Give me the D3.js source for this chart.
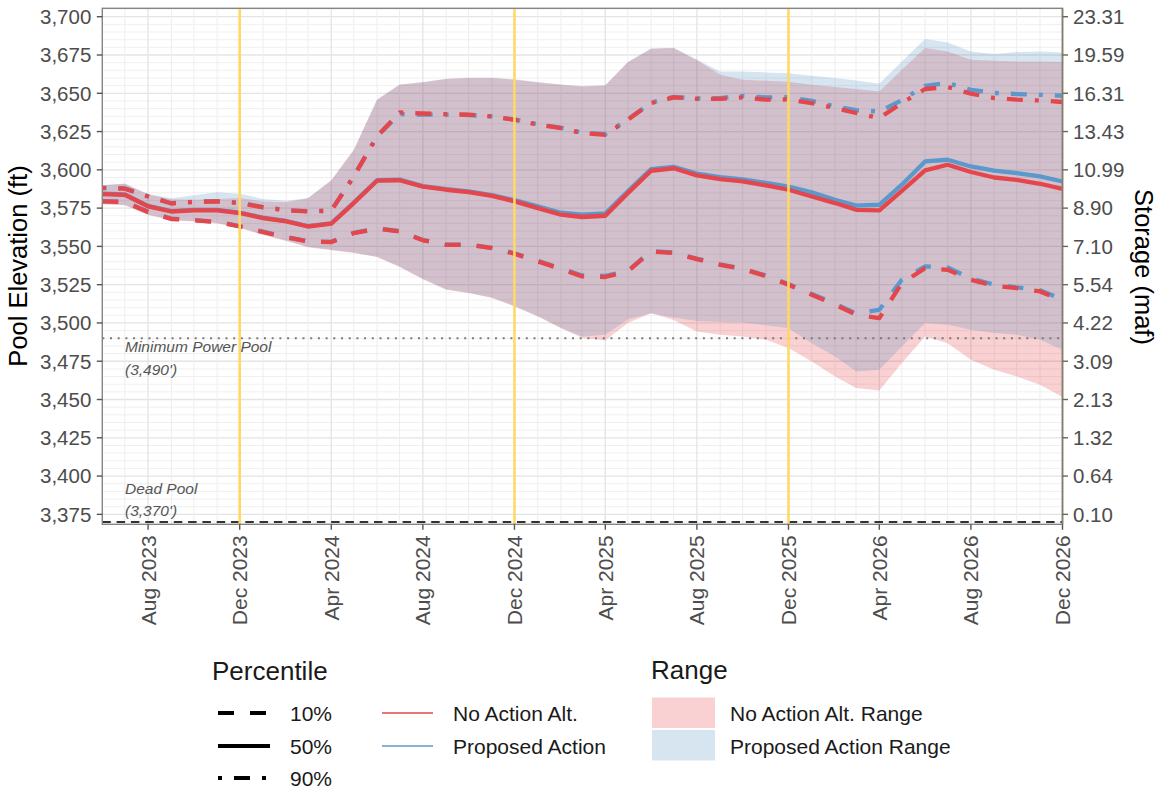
<!DOCTYPE html>
<html><head><meta charset="utf-8">
<script src="https://cdn.jsdelivr.net/npm/d3@7"></script>
<style>
html,body{margin:0;padding:0;background:#fff;}
svg{display:block;font-family:"Liberation Sans",Arial,sans-serif;}
</style></head>
<body><svg id="c" width="1159" height="790"></svg>
<script>
const months = ["2023-06","2023-07","2023-08","2023-09","2023-10","2023-11","2023-12",
"2024-01","2024-02","2024-03","2024-04","2024-05","2024-06","2024-07","2024-08","2024-09","2024-10","2024-11","2024-12",
"2025-01","2025-02","2025-03","2025-04","2025-05","2025-06","2025-07","2025-08","2025-09","2025-10","2025-11","2025-12",
"2026-01","2026-02","2026-03","2026-04","2026-05","2026-06","2026-07","2026-08","2026-09","2026-10","2026-11","2026-12"];

const na10 = [3579.4,3579.0,3572.4,3567.9,3567.0,3565.9,3563.0,3559.4,3555.9,3553.2,3552.8,3558.7,3561.5,3559.8,3554.0,3551.0,3551.0,3548.9,3545.2,3540.2,3535.2,3530.4,3530.0,3533.7,3546.7,3545.7,3541.7,3538.0,3535.2,3530.6,3525.0,3518.4,3511.9,3505.4,3503.2,3526.0,3535.8,3534.7,3528.2,3524.3,3522.8,3520.6,3514.7];
const pa10 = [3579.6,3579.2,3572.6,3568.1,3567.2,3566.1,3563.2,3559.6,3556.1,3553.4,3553.0,3558.9,3561.7,3560.0,3554.2,3551.2,3551.2,3549.1,3545.5,3540.6,3535.6,3531.0,3530.8,3534.0,3547.0,3546.0,3542.0,3538.3,3535.5,3531.0,3525.4,3519.0,3512.6,3506.2,3508.6,3528.2,3536.9,3536.2,3529.0,3525.0,3523.3,3521.3,3515.3];
const na50 = [3584.2,3583.7,3576.1,3572.8,3573.5,3573.5,3571.8,3568.5,3566.3,3563.0,3564.8,3578.3,3592.9,3593.2,3589.0,3587.0,3585.5,3583.0,3579.4,3575.0,3570.7,3569.2,3570.0,3584.8,3599.4,3601.0,3596.4,3594.0,3592.4,3589.8,3587.0,3582.6,3578.3,3573.9,3573.5,3586.3,3599.6,3603.3,3598.6,3595.0,3593.5,3590.9,3587.6];
const pa50 = [3584.5,3584.0,3576.4,3573.1,3573.8,3573.8,3572.1,3568.8,3566.6,3563.3,3565.1,3578.6,3593.2,3593.6,3589.4,3587.4,3585.9,3583.5,3580.2,3576.2,3572.0,3570.8,3571.5,3586.0,3600.5,3602.0,3597.5,3595.2,3593.8,3591.5,3589.0,3585.3,3580.5,3576.6,3577.2,3590.3,3605.5,3606.6,3602.2,3599.5,3597.8,3595.7,3592.4];
const na90 = [3588.1,3587.7,3582.6,3578.0,3579.0,3579.4,3578.3,3575.5,3573.5,3572.8,3573.3,3595.7,3621.8,3637.5,3636.8,3636.3,3636.0,3634.9,3632.7,3629.5,3627.3,3624.0,3622.9,3632.7,3643.6,3647.3,3646.4,3646.4,3647.3,3645.8,3646.0,3643.6,3640.3,3637.1,3633.8,3643.6,3652.8,3654.1,3649.7,3646.9,3645.8,3645.3,3644.3];
const pa90 = [3588.3,3587.9,3582.8,3578.2,3579.2,3579.6,3578.5,3575.7,3573.7,3573.0,3573.5,3595.9,3622.0,3636.5,3636.0,3636.0,3635.8,3634.9,3632.9,3629.7,3627.5,3624.3,3623.3,3633.0,3643.9,3647.6,3646.7,3646.9,3648.3,3647.3,3647.5,3645.0,3641.5,3639.0,3638.1,3645.5,3654.9,3656.7,3652.3,3650.2,3649.5,3649.0,3648.4];
const naMin = [3577.5,3576.8,3570.5,3567.0,3566.3,3565.0,3562.0,3557.5,3553.5,3549.5,3547.5,3545.7,3543.0,3536.5,3528.5,3521.7,3519.5,3516.3,3510.8,3504.2,3496.5,3490.3,3488.6,3499.9,3506.4,3502.0,3494.4,3492.3,3491.2,3489.0,3483.6,3474.9,3465.1,3457.5,3455.9,3473.8,3491.2,3486.8,3476.0,3469.4,3465.1,3459.6,3451.6];
const naMax = [3589.8,3590.9,3583.9,3580.8,3580.5,3581.0,3581.6,3579.4,3578.9,3581.4,3593.0,3613.0,3645.8,3655.6,3657.1,3659.3,3660.0,3660.0,3658.9,3657.1,3655.6,3654.5,3655.1,3670.2,3679.1,3679.6,3671.5,3662.1,3658.9,3658.2,3657.5,3655.6,3654.1,3652.8,3651.2,3665.4,3679.6,3677.3,3671.9,3671.3,3670.8,3670.8,3670.4];
const paMin = [3577.8,3577.1,3570.8,3567.3,3566.6,3565.3,3562.3,3557.8,3553.8,3549.8,3547.8,3546.0,3543.3,3536.8,3528.8,3522.0,3519.8,3516.6,3511.1,3504.5,3496.8,3491.2,3492.3,3502.5,3506.4,3503.5,3501.3,3500.7,3500.3,3498.5,3496.6,3486.8,3478.1,3468.3,3469.4,3484.6,3499.9,3498.8,3495.6,3493.4,3492.3,3489.0,3482.5];
const paMax = [3590.0,3591.0,3584.2,3581.5,3583.4,3585.3,3584.4,3581.0,3579.8,3581.6,3593.2,3613.2,3646.0,3655.8,3657.3,3659.5,3660.2,3660.2,3659.1,3657.3,3655.8,3654.7,3655.3,3670.4,3679.3,3679.8,3672.0,3664.3,3664.3,3663.6,3663.0,3661.5,3660.0,3658.4,3656.2,3670.8,3685.4,3683.2,3677.3,3675.6,3676.9,3677.3,3676.7];

const elevTicks = [3375,3400,3425,3450,3475,3500,3525,3550,3575,3600,3625,3650,3675,3700];
const storageLabels = ["0.10","0.64","1.32","2.13","3.09","4.22","5.54","7.10","8.90","10.99","13.43","16.31","19.59","23.31"];
const xTickMonths = ["2023-08","2023-12","2024-04","2024-08","2024-12","2025-04","2025-08","2025-12","2026-04","2026-08","2026-12"];
const xTickLabels = ["Aug 2023","Dec 2023","Apr 2024","Aug 2024","Dec 2024","Apr 2025","Aug 2025","Dec 2025","Apr 2026","Aug 2026","Dec 2026"];
const yellowMonths = ["2023-12","2024-12","2025-12"];
const minPowerPool = 3490, deadPool = 3370;
const percentiles = ["10%","50%","90%"];
const alternatives = ["No Action Alt.","Proposed Action"];
const rangeLabels = ["No Action Alt. Range","Proposed Action Range"];

const parse = d3.utcParse("%Y-%m");
const dates = months.map(parse);
const L = 102.3, R = 1062.5, T = 8.3, B = 524.3;
const x = d3.scaleUtc().domain([dates[0], dates[dates.length-1]]).range([L, R]);
const y = d3.scaleLinear().domain([3368.5, 3705.5]).range([B, T]);

const RED = "#e5464b", BLUE = "#5b98cc";
const FILL_RED = "#E41A1C", FILL_BLUE = "#377EB8";
const dashStyle = {"10%":"16,16","50%":null,"90%":"4,12,16,12"};

const svg = d3.select("#c");
svg.append("defs").append("clipPath").attr("id","clip")
  .append("rect").attr("x",L).attr("y",T).attr("width",R-L).attr("height",B-T);

const g = svg.append("g");
// grid
const minorY = d3.range(3370, 3706, 5);
g.selectAll(".hgm").data(minorY.filter(v => v % 25 !== 0)).join("line")
  .attr("x1",L).attr("x2",R).attr("y1",d=>y(d)).attr("y2",d=>y(d))
  .attr("stroke","#f0f0f0").attr("stroke-width",1);
g.selectAll(".hg").data(elevTicks).join("line")
  .attr("x1",L).attr("x2",R).attr("y1",d=>y(d)).attr("y2",d=>y(d))
  .attr("stroke","#e4e4e4").attr("stroke-width",1.3);
const tickSet = new Set(xTickMonths);
g.selectAll(".vg").data(months).join("line")
  .attr("x1",d=>x(parse(d))).attr("x2",d=>x(parse(d))).attr("y1",T).attr("y2",B)
  .attr("stroke",d=>tickSet.has(d)?"#e4e4e4":"#eeeeee").attr("stroke-width",d=>tickSet.has(d)?1.3:1);

const plot = svg.append("g").attr("clip-path","url(#clip)");
const area = (lo,hi) => d3.area().x((d,i)=>x(dates[i])).y0((d,i)=>y(lo[i])).y1((d,i)=>y(hi[i]));
plot.append("path").datum(months).attr("d",area(naMin,naMax)).attr("fill",FILL_RED).attr("fill-opacity",0.2);
plot.append("path").datum(months).attr("d",area(paMin,paMax)).attr("fill",FILL_BLUE).attr("fill-opacity",0.2);

// reference lines
plot.append("line").attr("x1",L).attr("x2",R).attr("y1",y(minPowerPool)).attr("y2",y(minPowerPool))
  .attr("stroke","#7a7a7a").attr("stroke-width",2).attr("stroke-dasharray","2,5.7");
plot.append("line").attr("x1",L).attr("x2",R).attr("y1",y(deadPool)).attr("y2",y(deadPool))
  .attr("stroke","#333").attr("stroke-width",2).attr("stroke-dasharray","8.5,5.8");

const line = vals => d3.line().x((d,i)=>x(dates[i])).y((d,i)=>y(vals[i]));
const series = [
  {vals:pa10,c:BLUE,p:"10%"},{vals:pa50,c:BLUE,p:"50%"},{vals:pa90,c:BLUE,p:"90%"},
  {vals:na10,c:RED,p:"10%"},{vals:na50,c:RED,p:"50%"},{vals:na90,c:RED,p:"90%"}];
series.forEach(s => {
  plot.append("path").datum(months).attr("d",line(s.vals)).attr("fill","none")
    .attr("stroke",s.c).attr("stroke-width",4.3).attr("stroke-linejoin","round")
    .attr("stroke-dasharray",dashStyle[s.p]);
});

// yellow lines
plot.selectAll(".yl").data(yellowMonths).join("line")
  .attr("x1",d=>x(parse(d))).attr("x2",d=>x(parse(d))).attr("y1",T).attr("y2",B)
  .attr("stroke","#ffd966").attr("stroke-width",2.6);

// annotations
const ann = svg.append("g").attr("font-style","italic").attr("font-size",15.5).attr("fill","#555");
ann.append("text").attr("x",125).attr("y",352).text("Minimum Power Pool");
ann.append("text").attr("x",125).attr("y",375).text("(3,490')");
ann.append("text").attr("x",125).attr("y",493.5).text("Dead Pool");
ann.append("text").attr("x",125).attr("y",515.5).text("(3,370')");

// panel border
svg.append("rect").attr("x",L).attr("y",T).attr("width",R-L).attr("height",B-T)
  .attr("fill","none").attr("stroke","#858585").attr("stroke-width",1.4);
svg.append("line").attr("x1",R).attr("x2",R).attr("y1",T).attr("y2",B)
  .attr("stroke","#857f6a").attr("stroke-width",1.6);

// left axis
const yl = svg.append("g");
yl.selectAll("line").data(elevTicks).join("line")
  .attr("x1",L-5.5).attr("x2",L).attr("y1",d=>y(d)).attr("y2",d=>y(d))
  .attr("stroke","#555").attr("stroke-width",1.4);
yl.selectAll("text").data(elevTicks).join("text")
  .attr("x",L-11).attr("y",d=>y(d)).attr("dy","0.36em").attr("text-anchor","end")
  .attr("font-size",20.5).attr("fill","#4d4d4d").text(d=>d3.format(",")(d));
// right axis
const yr = svg.append("g");
yr.selectAll("line").data(elevTicks).join("line")
  .attr("x1",R).attr("x2",R+5.5).attr("y1",d=>y(d)).attr("y2",d=>y(d))
  .attr("stroke","#6b6656").attr("stroke-width",1.4);
yr.selectAll("text").data(elevTicks).join("text")
  .attr("x",R+10.5).attr("y",d=>y(d)).attr("dy","0.36em").attr("text-anchor","start")
  .attr("font-size",20.5).attr("fill","#4d4d4d").text((d,i)=>storageLabels[i]);
// x axis
const xa = svg.append("g");
xa.selectAll("line").data(xTickMonths).join("line")
  .attr("x1",d=>x(parse(d))).attr("x2",d=>x(parse(d))).attr("y1",B).attr("y2",B+5.5)
  .attr("stroke","#555").attr("stroke-width",1.4);
xa.selectAll("text").data(xTickMonths).join("text")
  .attr("transform",d=>`translate(${x(parse(d))},${B+11}) rotate(-90)`)
  .attr("dy","0.36em").attr("text-anchor","end").attr("font-size",21).attr("fill","#4d4d4d")
  .text((d,i)=>xTickLabels[i]);

// axis titles
svg.append("text").attr("transform",`translate(27,266) rotate(-90)`).attr("text-anchor","middle")
  .attr("font-size",25.5).attr("fill","#000").text("Pool Elevation (ft)");
svg.append("text").attr("transform",`translate(1134.5,267) rotate(90)`).attr("text-anchor","middle")
  .attr("font-size",25.5).attr("fill","#000").text("Storage (maf)");

// legend
const lg = svg.append("g").attr("fill","#1a1a1a");
lg.append("text").attr("x",212).attr("y",679.5).attr("font-size",26).text("Percentile");
const rowY = [713, 746, 778];
percentiles.forEach((p,i) => {
  lg.append("line").attr("x1",218).attr("x2",270).attr("y1",rowY[i]).attr("y2",rowY[i])
    .attr("stroke","#000").attr("stroke-width",4.2).attr("stroke-dasharray",dashStyle[p]);
  lg.append("text").attr("x",290).attr("y",rowY[i]).attr("dy","0.36em").attr("font-size",21).text(p);
});
[RED,BLUE].forEach((c,i) => {
  lg.append("line").attr("x1",382).attr("x2",433).attr("y1",rowY[i]).attr("y2",rowY[i])
    .attr("stroke",c).attr("stroke-width",1.5);
  lg.append("text").attr("x",453).attr("y",rowY[i]).attr("dy","0.36em").attr("font-size",21).text(alternatives[i]);
});
lg.append("text").attr("x",651).attr("y",678.5).attr("font-size",26).text("Range");
[FILL_RED,FILL_BLUE].forEach((c,i) => {
  lg.append("rect").attr("x",652).attr("y",697.5+i*32.5).attr("width",63).attr("height",30.5)
    .attr("fill",c).attr("fill-opacity",0.2);
  lg.append("text").attr("x",730).attr("y",rowY[i]).attr("dy","0.36em").attr("font-size",21).text(rangeLabels[i]);
});
</script></body></html>
